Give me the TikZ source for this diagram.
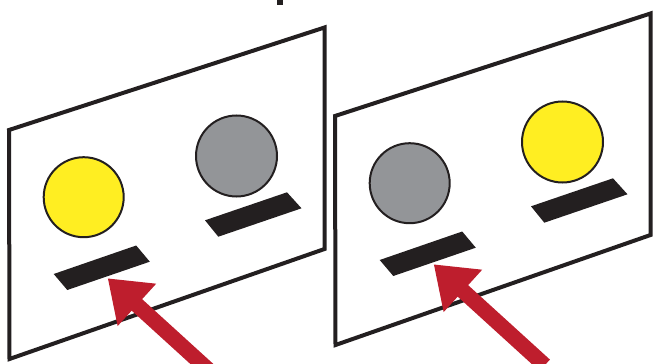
\documentclass[tikz,border=0pt]{standalone}
\usepackage{xcolor}
\usepackage{tikz}
\usetikzlibrary{arrows.meta, calc}

\definecolor{inkblack}{HTML}{231F20}
\definecolor{dotyellow}{HTML}{FFEE22}
\definecolor{dotgray}{HTML}{939598}
\definecolor{arrowred}{HTML}{BE1E2D}

\begin{document}
\begin{tikzpicture}[x=1pt, y=-1pt,
    frame/.style={draw=inkblack, line width=4pt},
    disc/.style={draw=inkblack, line width=2pt},
    bar/.style={fill=inkblack},
    pointer/.style={draw=arrowred, line width=15.5pt,
      -{Triangle[length=39.5pt, width=54.5pt]}}]
  \useasboundingbox (0,0) rectangle (654,364);
  \clip (0,0) rectangle (654,364);
  % cut-off mark at the top edge
  \fill[inkblack] (277,0) rectangle (283,4.7);
  % the two panels
  \foreach \i/\sx/\sy/\ca/\cb in {1/0/0/dotyellow/dotgray, 2/326/-14/dotgray/dotyellow} {
    \begin{scope}[shift={(\sx,\sy)}]
      \draw[frame] (9,130) -- (324.5,27.5) -- (324.5,249) -- (9.5,359) -- cycle;
      % discs
      \draw[disc, fill=\ca] (83.7,197.2) circle (40);
      \draw[disc, fill=\cb] (236.5,156) circle (40.5);
      % bars
      \fill[bar] (53.7,274) -- (136.2,245.5) -- (149.8,261.7) -- (67.3,290) -- cycle;
      \fill[bar] (205,220.3) -- (287,192.3) -- (301.5,208.3) -- (218.3,236.7) -- cycle;
      \coordinate (tip\i) at (107.7,278.3);
      \coordinate (tail\i) at ($(tip\i)+(111,101)$);
    \end{scope}
    \draw[pointer] (tail\i) -- (tip\i);
  }
\end{tikzpicture}
\end{document}
